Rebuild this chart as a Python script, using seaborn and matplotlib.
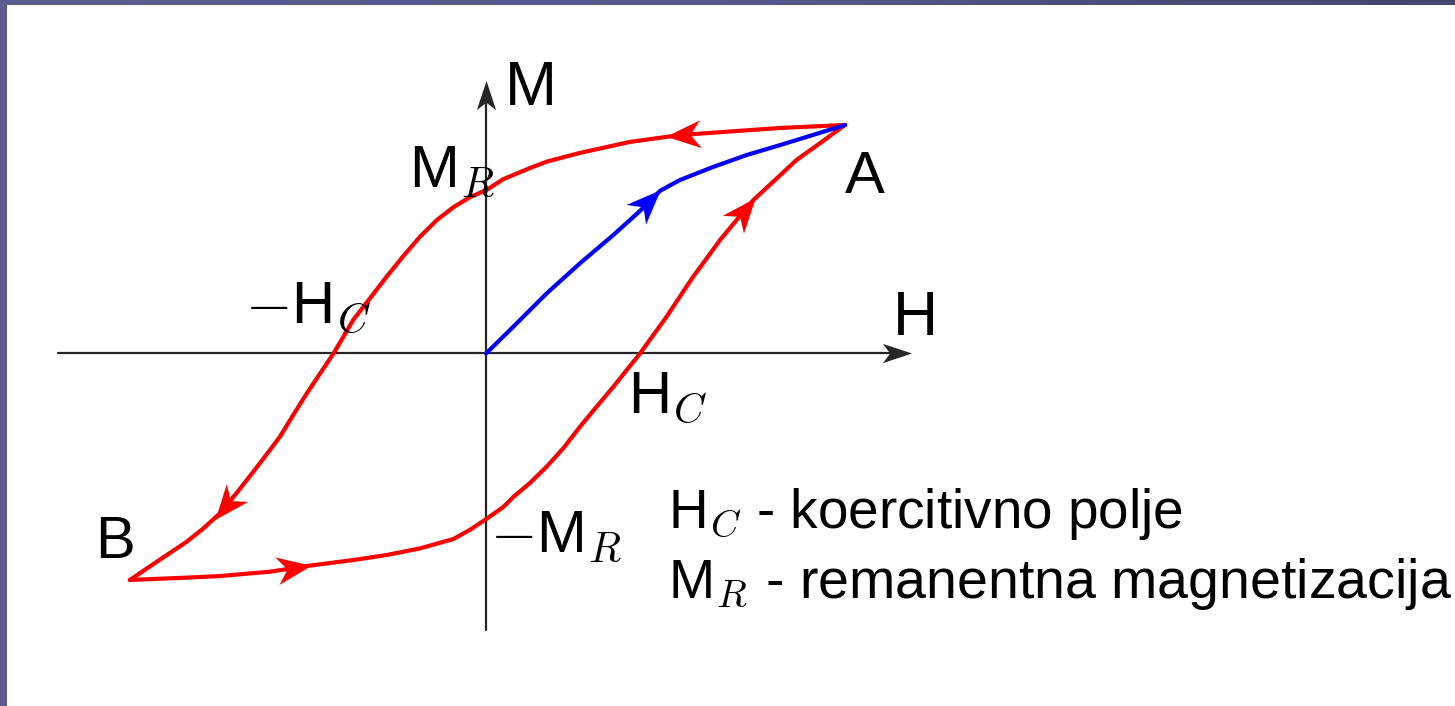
import numpy as np
import matplotlib
matplotlib.use("Agg")
import matplotlib.pyplot as plt
import seaborn as sns
from matplotlib.path import Path
from matplotlib.markers import MarkerStyle
from matplotlib.transforms import Affine2D
from matplotlib.patches import Rectangle

# Hysteresis loop, normalised so that the saturation point A is (1, 1)
# descending branch: A -> M_R -> -H_C -> B
h_down = [1.000, 0.819, 0.540, 0.401, 0.262, 0.170, 0.123, 0.047, 0.002,
          -0.045, -0.091, -0.137, -0.184, -0.230, -0.277, -0.323, -0.370,
          -0.397, -0.425, -0.462, -0.499, -0.537, -0.574, -0.611, -0.648,
          -0.694, -0.741, -0.787, -0.834, -0.913, -0.992]
m_down = [1.000, 0.987, 0.956, 0.926, 0.878, 0.840, 0.812, 0.762, 0.716,
          0.684, 0.640, 0.584, 0.511, 0.427, 0.336, 0.242, 0.147,
          0.074, 0.000, -0.087, -0.174, -0.269, -0.364, -0.441, -0.517,
          -0.609, -0.699, -0.765, -0.824, -0.907, -0.991]
# ascending branch: B -> -M_R -> H_C -> A
h_up = [-0.992, -0.834, -0.741, -0.602, -0.499, -0.370, -0.277, -0.184,
        -0.091, -0.045, 0.002, 0.048, 0.076, 0.123, 0.169, 0.215, 0.262,
        0.308, 0.355, 0.392, 0.429, 0.466, 0.503, 0.540, 0.577, 0.615,
        0.652, 0.698, 0.745, 0.800, 0.865, 0.930, 1.000]
m_up = [-0.991, -0.981, -0.974, -0.955, -0.930, -0.904, -0.882, -0.853,
        -0.812, -0.772, -0.723, -0.672, -0.628, -0.566, -0.495, -0.415, -0.320,
        -0.233, -0.145, -0.072, 0.000, 0.081, 0.161, 0.249, 0.336, 0.417,
        0.497, 0.584, 0.672, 0.752, 0.847, 0.920, 1.000]
# initial magnetisation curve: O -> A
h_init = [0.000, 0.076, 0.169, 0.262, 0.355, 0.429, 0.485, 0.540, 0.632,
          0.727, 0.819, 0.908, 1.000]
m_init = [0.000, 0.117, 0.263, 0.395, 0.519, 0.624, 0.712, 0.759, 0.816,
          0.869, 0.912, 0.955, 1.000]

sns.set_theme(style="white")
plt.rcParams["font.family"] = ["Liberation Sans", "DejaVu Sans"]
plt.rcParams["mathtext.fontset"] = "cm"

fig = plt.figure(figsize=(14.55, 7.06), dpi=100)
fig.patch.set_facecolor("white")
# slide frame strips
frame = "#5b5b8e"
fig.add_artist(Rectangle((0, 0), 7 / 1455, 1, transform=fig.transFigure,
                         facecolor=frame, edgecolor="none", zorder=0))
top = fig.add_axes([0, 1 - 5 / 706, 1, 5 / 706])
top.imshow(np.linspace(0, 1, 256)[None, :], aspect="auto",
           cmap=matplotlib.colors.LinearSegmentedColormap.from_list(
               "frame", ["#5c5c8f", "#56568a", "#46466f"]))
top.axis("off")

ax = fig.add_axes([7 / 1455, 0, 1 - 7 / 1455, 1 - 5 / 706])
ax.set_xlim(-1.3343, 2.6992)
ax.set_ylim(-1.5427, 1.5251)
ax.axis("off")
ax.patch.set_alpha(0)

# stealth-shaped arrow heads
codes = [Path.MOVETO, Path.LINETO, Path.LINETO, Path.LINETO, Path.CLOSEPOLY]
stealth = Path([(1, 0), (-1, 0.8), (-0.4, 0), (-1, -0.8), (1, 0)], codes)
stealth_axis = Path([(1, 0), (-1, 0.66), (-0.5, 0), (-1, -0.66), (1, 0)], codes)


def head(x, y, ang, size, color, shape=stealth):
    mk = MarkerStyle(shape, transform=Affine2D().rotate_deg(ang))
    ax.plot([x], [y], marker=mk, markersize=size, color=color,
            markeredgewidth=0, linestyle="none", zorder=5)


def head_along(h, m, frac, size, color):
    pts = ax.transData.transform(np.column_stack([h, m]))
    seg = np.hypot(*np.diff(pts, axis=0).T)
    cum = np.concatenate([[0], np.cumsum(seg)])
    s = frac * cum[-1]
    i = int(np.clip(np.searchsorted(cum, s) - 1, 0, len(seg) - 1))
    t = (s - cum[i]) / seg[i]
    p = pts[i] + t * (pts[i + 1] - pts[i])
    d = pts[i + 1] - pts[i]
    ang = np.degrees(np.arctan2(d[1], d[0]))
    x, y = ax.transData.inverted().transform(p)
    head(x, y, ang, size, color)


axis_col = "#262626"
# coordinate axes
ax.plot([-1.192, 1.150], [0, 0], color=axis_col, lw=1.6, zorder=2)
ax.plot([0, 0], [-1.210, 1.150], color=axis_col, lw=1.6, zorder=2)
head(1.145, 0, 0, 21, axis_col, stealth_axis)
head(0, 1.130, 90, 21, axis_col, stealth_axis)

line_kw = dict(sort=False, estimator=None, lw=3.0, ax=ax,
               solid_joinstyle="round", solid_capstyle="round")
sns.lineplot(x=h_down, y=m_down, color="#ff0000", zorder=3, **line_kw)
sns.lineplot(x=h_up, y=m_up, color="#ff0000", zorder=3, **line_kw)
sns.lineplot(x=h_init, y=m_init, color="#0000ff", zorder=4, **line_kw)

head_along(h_down, m_down, 0.18, 25, "#ff0000")
head_along(h_down, m_down, 0.865, 25, "#ff0000")
head_along(h_up, m_up, 0.183, 25, "#ff0000")
head_along(h_up, m_up, 0.853, 25, "#ff0000")
head_along(h_init, m_init, 0.51, 25, "#0000ff")

fs = 43
txt = dict(color="black", ha="left", va="baseline", zorder=6)
ax.text(0.053, 1.088, "M", fontsize=fs + 2, **txt)
ax.text(1.134, 0.081, "H", fontsize=fs + 2, **txt)
ax.text(1.000, 0.702, "A", fontsize=fs, **txt)
ax.text(-1.089, -0.895, "B", fontsize=fs, **txt)
ax.text(-0.214, 0.729, r"M$_R$", fontsize=fs, **txt)
ax.text(-0.671, 0.133, r"$-$H$_C$", fontsize=fs, **txt)
ax.text(0.396, -0.260, r"H$_C$", fontsize=fs, **txt)
ax.text(0.011, -0.869, r"$-$M$_R$", fontsize=fs, **txt)
ax.text(0.507, -0.764, r"H$_C$ - koercitivno polje", fontsize=39.5, **txt)
ax.text(0.507, -1.070, r"M$_R$ - remanentna magnetizacija", fontsize=40, **txt)

fig.savefig("out.png", dpi=100)
